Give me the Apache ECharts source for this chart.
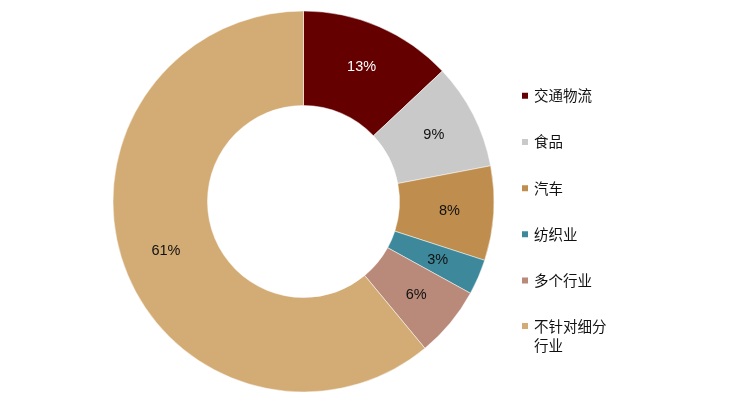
<!DOCTYPE html>
<html>
<head>
<meta charset="utf-8">
<script src="https://cdn.jsdelivr.net/npm/echarts@6/dist/echarts.min.js"></script>
<style>html,body{margin:0;padding:0;background:#fff;}#c{width:734px;height:402px;}</style>
</head>
<body>
<div id="c"></div>
<script>
var categories = ['交通物流', '食品', '汽车', '纺织业', '多个行业', '不针对细分行业'];
var values = [13, 9, 8, 3, 6, 61];
var colors = ['#650000', '#C9C9C9', '#BF8D4D', '#3D899B', '#B98979', '#D3AB74'];
var labelColors = ['#ffffff', '#111111', '#111111', '#111111', '#111111', '#111111'];

var chart = echarts.init(document.getElementById('c'));
var data = categories.map(function (n, i) {
  return {
    name: n, value: values[i],
    itemStyle: { color: colors[i] },
    label: { color: labelColors[i] }
  };
});
chart.setOption({
  animation: false,
  legend: [{
    orient: 'vertical',
    left: 520, top: 88.5, padding: 0,
    icon: 'rect', itemWidth: 8, itemHeight: 8,
    itemGap: 31.7,
    data: categories.slice(0, 5),
    textStyle: { fontSize: 14.5, color: '#111', fontFamily: 'Noto Sans CJK SC' }
  }, {
    orient: 'vertical',
    left: 520, top: 297.5, padding: 0,
    icon: 'rect', itemWidth: 8, itemHeight: 8,
    data: categories.slice(5),
    formatter: function () { return '\u3000\n不针对细分\n行业'; },
    textStyle: { fontSize: 14.5, lineHeight: 19, color: '#111', fontFamily: 'Noto Sans CJK SC' }
  }],
  series: [{
    type: 'pie',
    center: [303.5, 201.5],
    radius: [96, 190.5],
    startAngle: 90,
    clockwise: true,
    avoidLabelOverlap: false,
    itemStyle: { borderColor: '#fff', borderWidth: 0.5 },
    label: {
      show: true, position: 'inside',
      formatter: '{c}%',
      fontSize: 14.5, fontFamily: 'Liberation Sans, Arial, sans-serif'
    },
    labelLine: { show: false },
    emphasis: { disabled: true },
    data: data
  }]
});
</script>
</body>
</html>
